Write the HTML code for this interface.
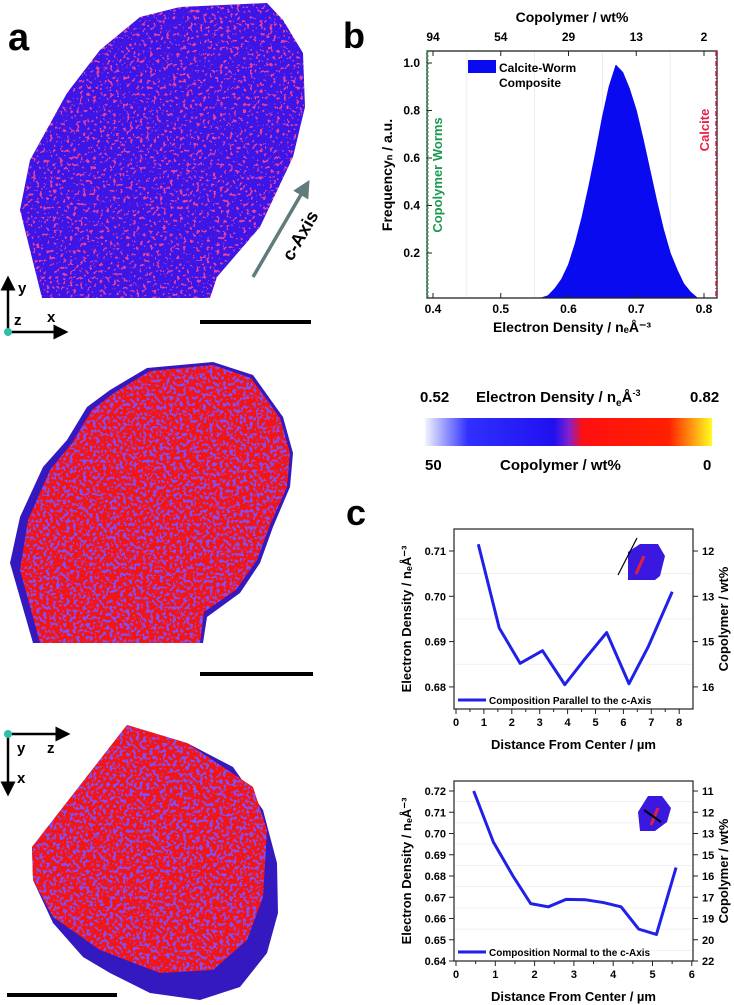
<!DOCTYPE html>
<html><head><meta charset="utf-8"><style>
body{margin:0;background:#fff;width:734px;height:1005px;overflow:hidden;font-family:"Liberation Sans",sans-serif}
svg{position:absolute;left:0;top:0}
text{font-family:"Liberation Sans",sans-serif;font-weight:bold}
</style></head><body>
<svg width="734" height="1005">
<defs>
<filter id="speckB" x="0" y="0" width="1" height="1">
<feTurbulence type="fractalNoise" baseFrequency="0.3" numOctaves="2" seed="3" result="n"/>
<feColorMatrix in="n" type="matrix" values="0 0 0 0 0.22  0 0 0 0 0.08  0 0 0 0 0.95  0 0 0 -30 13.3" result="blue"/>
<feComposite in="blue" in2="SourceGraphic" operator="atop"/>
</filter>
<filter id="speckR" x="0" y="0" width="1" height="1">
<feTurbulence type="fractalNoise" baseFrequency="0.3" numOctaves="2" seed="7" result="n"/>
<feColorMatrix in="n" type="matrix" values="0 0 0 0 0.8  0 0 0 0 0.05  0 0 0 0 0.35  0 0 0 -30 11.3" result="red"/>
<feComposite in="red" in2="SourceGraphic" operator="atop"/>
</filter>
<linearGradient id="cbar" x1="0" x2="1"><stop offset="0" stop-color="#f4f4ff"/><stop offset="0.15" stop-color="#3030ff"/><stop offset="0.45" stop-color="#2010f0"/><stop offset="0.5" stop-color="#8020d0"/><stop offset="0.55" stop-color="#ff1010"/><stop offset="0.85" stop-color="#ff2000"/><stop offset="1" stop-color="#ffff20"/></linearGradient>
<marker id="ah" markerWidth="6" markerHeight="6" refX="5" refY="3" orient="auto" markerUnits="strokeWidth"><path d="M0,0L6,3L0,6z" fill="#000"/></marker>
<marker id="ahg" markerWidth="5" markerHeight="5" refX="3" refY="2.5" orient="auto" markerUnits="strokeWidth"><path d="M0,0L5,2.5L0,5z" fill="#5f7b7b"/></marker>
</defs>
<text x="8" y="50" font-size="38">a</text>
<text x="343" y="48" font-size="36">b</text>
<text x="346" y="525" font-size="36">c</text>
<polygon fill="#3a14e6" filter="url(#speckR)" points="42,298 20,210 30,160 67,93 100,50 140,17 180,7 267,3 283,20 303,53 305,107 293,157 260,227 217,277 210,298"/>
<polygon fill="#3418c0" points="33,643 10,563 20,517 43,467 67,440 87,407 110,390 147,368 213,362 253,375 283,417 293,453 290,487 273,527 260,563 240,593 207,617 203,643"/>
<polygon fill="#f01818" filter="url(#speckB)" points="40,643 20,570 28,520 50,470 72,443 92,410 114,393 150,371 213,365 251,378 280,418 290,453 287,487 270,525 257,560 236,590 204,612 200,643"/>
<polygon fill="#3418c0" points="32,847 127,725 187,743 233,767 263,810 277,863 278,913 267,953 240,987 200,1000 150,993 110,973 83,957 53,923 33,880"/>
<polygon fill="#f01818" filter="url(#speckB)" points="32,847 127,725 187,743 253,787 267,830 263,897 247,940 213,970 160,973 100,950 53,917 33,880"/>
<line x1="200" y1="322" x2="311" y2="322" stroke="#000" stroke-width="4"/>
<line x1="200" y1="674" x2="313" y2="674" stroke="#000" stroke-width="4"/>
<line x1="7" y1="995" x2="117" y2="995" stroke="#000" stroke-width="4"/>
<g>
<line x1="8" y1="332" x2="8" y2="278" stroke="#000" stroke-width="2.5" marker-end="url(#ah)"/>
<line x1="8" y1="332" x2="66" y2="332" stroke="#000" stroke-width="2.5" marker-end="url(#ah)"/>
<circle cx="8" cy="332" r="4" fill="#2cc0a8"/>
<text x="18" y="293" font-size="15">y</text><text x="14" y="325" font-size="15">z</text><text x="47" y="322" font-size="15">x</text></g>
<g>
<line x1="8" y1="734" x2="8" y2="794" stroke="#000" stroke-width="2.5" marker-end="url(#ah)"/>
<line x1="8" y1="734" x2="68" y2="734" stroke="#000" stroke-width="2.5" marker-end="url(#ah)"/>
<circle cx="8" cy="734" r="4" fill="#2cc0a8"/>
<text x="17" y="753" font-size="15">y</text><text x="47" y="753" font-size="15">z</text><text x="17" y="783" font-size="15">x</text></g>
<line x1="253" y1="277" x2="306" y2="186" stroke="#5f7b7b" stroke-width="3.5" marker-end="url(#ahg)"/>
<text transform="translate(292,262) rotate(-60)" font-size="18">c-Axis</text>
<g>
<text x="420" y="402" font-size="15">0.52</text>
<text x="476" y="402" font-size="15">Electron Density / n<tspan font-size="10" dy="4">e</tspan><tspan dy="-4">Å</tspan><tspan font-size="9" dy="-6">-3</tspan></text>
<text x="690" y="402" font-size="15">0.82</text>
<rect x="425" y="418" width="287" height="28" fill="url(#cbar)"/>
<text x="425" y="470" font-size="15">50</text>
<text x="500" y="470" font-size="15">Copolymer / wt%</text>
<text x="703" y="470" font-size="15">0</text></g>
<g id="pb"></g>
<g id="pc1"></g>
<g id="pc2"></g>
</svg>
<script>
const NS="http://www.w3.org/2000/svg";
function el(p,t,a,txt){const e=document.createElementNS(NS,t);for(const k in a)e.setAttribute(k,a[k]);if(txt!==undefined)e.textContent=txt;p.appendChild(e);return e;}
// chart b data
const bX=[0.55,0.56,0.57,0.58,0.59,0.60,0.61,0.62,0.63,0.64,0.65,0.66,0.67,0.68,0.69,0.70,0.71,0.72,0.73,0.74,0.75,0.76,0.77,0.78,0.79,0.80];
const bY=[0,0.005,0.02,0.05,0.09,0.15,0.24,0.35,0.48,0.62,0.77,0.9,0.99,0.96,0.89,0.8,0.68,0.55,0.42,0.3,0.2,0.13,0.07,0.035,0.01,0];
const bXTicks=[0.4,0.5,0.6,0.7,0.8];
const bTopLabels=["94","54","29","13","2"];
const bYTicks=[0.2,0.4,0.6,0.8,1.0];
// chart c1 data
const c1X=[0.8,1.55,2.3,3.1,3.9,4.6,5.4,6.2,6.9,7.75];
const c1Y=[0.7115,0.693,0.6852,0.688,0.6805,0.686,0.692,0.6807,0.689,0.701];
const c1XTicks=[0,1,2,3,4,5,6,7,8];
const c1YTicks=[0.68,0.69,0.70,0.71];
const c1RLabels=["16","15","13","12"];
// chart c2 data
const c2X=[0.45,0.95,1.45,1.9,2.35,2.8,3.3,3.75,4.2,4.65,5.1,5.6];
const c2Y=[0.72,0.696,0.68,0.667,0.6655,0.669,0.6688,0.6675,0.6655,0.655,0.6525,0.684];
const c2XTicks=[0,1,2,3,4,5,6];
const c2YTicks=[0.64,0.65,0.66,0.67,0.68,0.69,0.70,0.71,0.72];
const c2RLabels=["22","20","19","17","16","15","13","12","11"];

(function(){const g=document.getElementById('pb');
const L=427,R=717,T=51,B=298;
const sx=v=>433+(v-0.4)*677.5, sy=v=>300.5-v*237.5;
[0.45,0.55,0.65,0.75].forEach(v=>el(g,'line',{x1:sx(v),x2:sx(v),y1:T,y2:B,stroke:'#e4e4e4','stroke-width':0.7}));
let d='M'+sx(bX[0])+','+B;
for(let i=0;i<bX.length;i++){d+=' L'+sx(bX[i])+','+Math.min(B,sy(bY[i]));}
d+=' L'+sx(bX[bX.length-1])+','+B+'Z';
const a=el(g,'path',{d:d,fill:'#0a0af0','stroke':'#0a0af0','stroke-linejoin':'round'});


el(g,'rect',{x:L,y:T,width:R-L,height:B-T,fill:'none',stroke:'#222','stroke-width':1.3});
el(g,'line',{x1:L+0.5,x2:L+0.5,y1:T,y2:B,stroke:'#1a9a50','stroke-width':2,'stroke-dasharray':'2,2'});
el(g,'line',{x1:R-1,x2:R-1,y1:T,y2:B,stroke:'#e8204a','stroke-width':1.5,'stroke-dasharray':'5,2,1,2'});
bXTicks.forEach((v,i)=>{el(g,'line',{x1:sx(v),x2:sx(v),y1:B,y2:B-5,stroke:'#222'});el(g,'text',{x:sx(v),y:B+15,'font-size':12,'text-anchor':'middle'},v.toFixed(1));
 el(g,'line',{x1:sx(v),x2:sx(v),y1:T,y2:T+5,stroke:'#222'});el(g,'text',{x:sx(v),y:T-10,'font-size':12,'text-anchor':'middle'},bTopLabels[i]);});
bYTicks.forEach(v=>{el(g,'line',{x1:L,x2:L+5,y1:sy(v),y2:sy(v),stroke:'#222'});el(g,'text',{x:L-7,y:sy(v)+4,'font-size':12,'text-anchor':'end'},v.toFixed(1));});
el(g,'text',{x:572,y:22,'font-size':14,'text-anchor':'middle'},'Copolymer / wt%');
el(g,'text',{x:572,y:332,'font-size':14,'text-anchor':'middle'},'Electron Density / n\u2091Å\u207B\u00B3');
el(g,'text',{transform:'translate(392,175) rotate(-90)','font-size':14,'text-anchor':'middle'},'Frequency\u2099 / a.u.');
el(g,'text',{transform:'translate(442,175) rotate(-90)','font-size':13,'text-anchor':'middle',fill:'#1a9a50'},'Copolymer Worms');
el(g,'text',{transform:'translate(709,130) rotate(-90)','font-size':13,'text-anchor':'middle',fill:'#e8204a'},'Calcite');
el(g,'rect',{x:468,y:60,width:28,height:13,fill:'#0a0af0'});
el(g,'text',{x:499,y:72,'font-size':12},'Calcite-Worm');el(g,'text',{x:499,y:87,'font-size':12},'Composite');
})();

function lineChart(id,xs,ys,xt,yt,rl,L,R,T,B,x0,xu,yRef,yRefPx,yu,legend,decs){
const g=document.getElementById(id);
const sx=v=>x0+v*xu, sy=v=>yRefPx-(v-yRef)*yu;
for(let i=0;i<yt.length-1;i++){const m=(yt[i]+yt[i+1])/2;el(g,'line',{x1:L,x2:R,y1:sy(m),y2:sy(m),stroke:'#ececec','stroke-width':0.7});}
el(g,'rect',{x:L,y:T,width:R-L,height:B-T,fill:'none',stroke:'#222','stroke-width':1.2});
xt.forEach((v,i)=>{el(g,'line',{x1:sx(v),x2:sx(v),y1:B,y2:B+5,stroke:'#222'});el(g,'text',{x:sx(v),y:B+17,'font-size':11,'text-anchor':'middle'},String(v));
 if(i<xt.length-1){const m=sx(v+0.5);el(g,'line',{x1:m,x2:m,y1:B,y2:B+3,stroke:'#222'});}});
yt.forEach((v,i)=>{el(g,'line',{x1:L-5,x2:L,y1:sy(v),y2:sy(v),stroke:'#222'});el(g,'text',{x:L-8,y:sy(v)+4,'font-size':11,'text-anchor':'end'},v.toFixed(decs));
 el(g,'line',{x1:R,x2:R+5,y1:sy(v),y2:sy(v),stroke:'#222'});el(g,'text',{x:R+9,y:sy(v)+4,'font-size':11},rl[i]);});
let d='';xs.forEach((x,i)=>d+=(i?' L':'M')+sx(x)+','+sy(ys[i]));
const p=el(g,'path',{d:d,fill:'none',stroke:'#2020e8','stroke-width':3,'stroke-linejoin':'round'});


el(g,'line',{x1:L+4,x2:L+32,y1:B-9,y2:B-9,stroke:'#2020e8','stroke-width':3});
el(g,'text',{x:L+35,y:B-5,'font-size':10},legend);
el(g,'text',{x:(L+R)/2,y:B+40,'font-size':13,'text-anchor':'middle'},'Distance From Center / µm');
el(g,'text',{transform:'translate('+(L-43)+','+((T+B)/2)+') rotate(-90)','font-size':13,'text-anchor':'middle'},'Electron Density / n\u2091Å\u207B\u00B3');
el(g,'text',{transform:'translate(728,'+((T+B)/2)+') rotate(-90)','font-size':13,'text-anchor':'middle'},'Copolymer / wt%');
}
lineChart('pc1',c1X,c1Y,c1XTicks,c1YTicks,c1RLabels,454,693,529,709,456,27.9,0.71,551,4530,'Composition Parallel to the c-Axis',2);
lineChart('pc2',c2X,c2Y,c2XTicks,c2YTicks,c2RLabels,454,693,781,961,456,39.3,0.72,791,2125,'Composition Normal to the c-Axis',2);
(function(){const g=document.getElementById('pc1');
el(g,'polygon',{points:'628,552 640,544 658,544 665,556 660,576 655,580 628,580',fill:'#3a18e0'});
el(g,'line',{x1:636,x2:644,y1:574,y2:556,stroke:'#e02040','stroke-width':3});
el(g,'line',{x1:618,x2:637,y1:575,y2:538,stroke:'#000','stroke-width':1.2});
const g2=document.getElementById('pc2');
el(g2,'polygon',{points:'638,812 648,796 662,796 671,808 667,822 655,831 640,831',fill:'#3a18e0'});
el(g2,'line',{x1:651,x2:658,y1:825,y2:808,stroke:'#e02040','stroke-width':3});
el(g2,'line',{x1:644,x2:661,y1:810,y2:822,stroke:'#000','stroke-width':2});})();
</script>
</body></html>
